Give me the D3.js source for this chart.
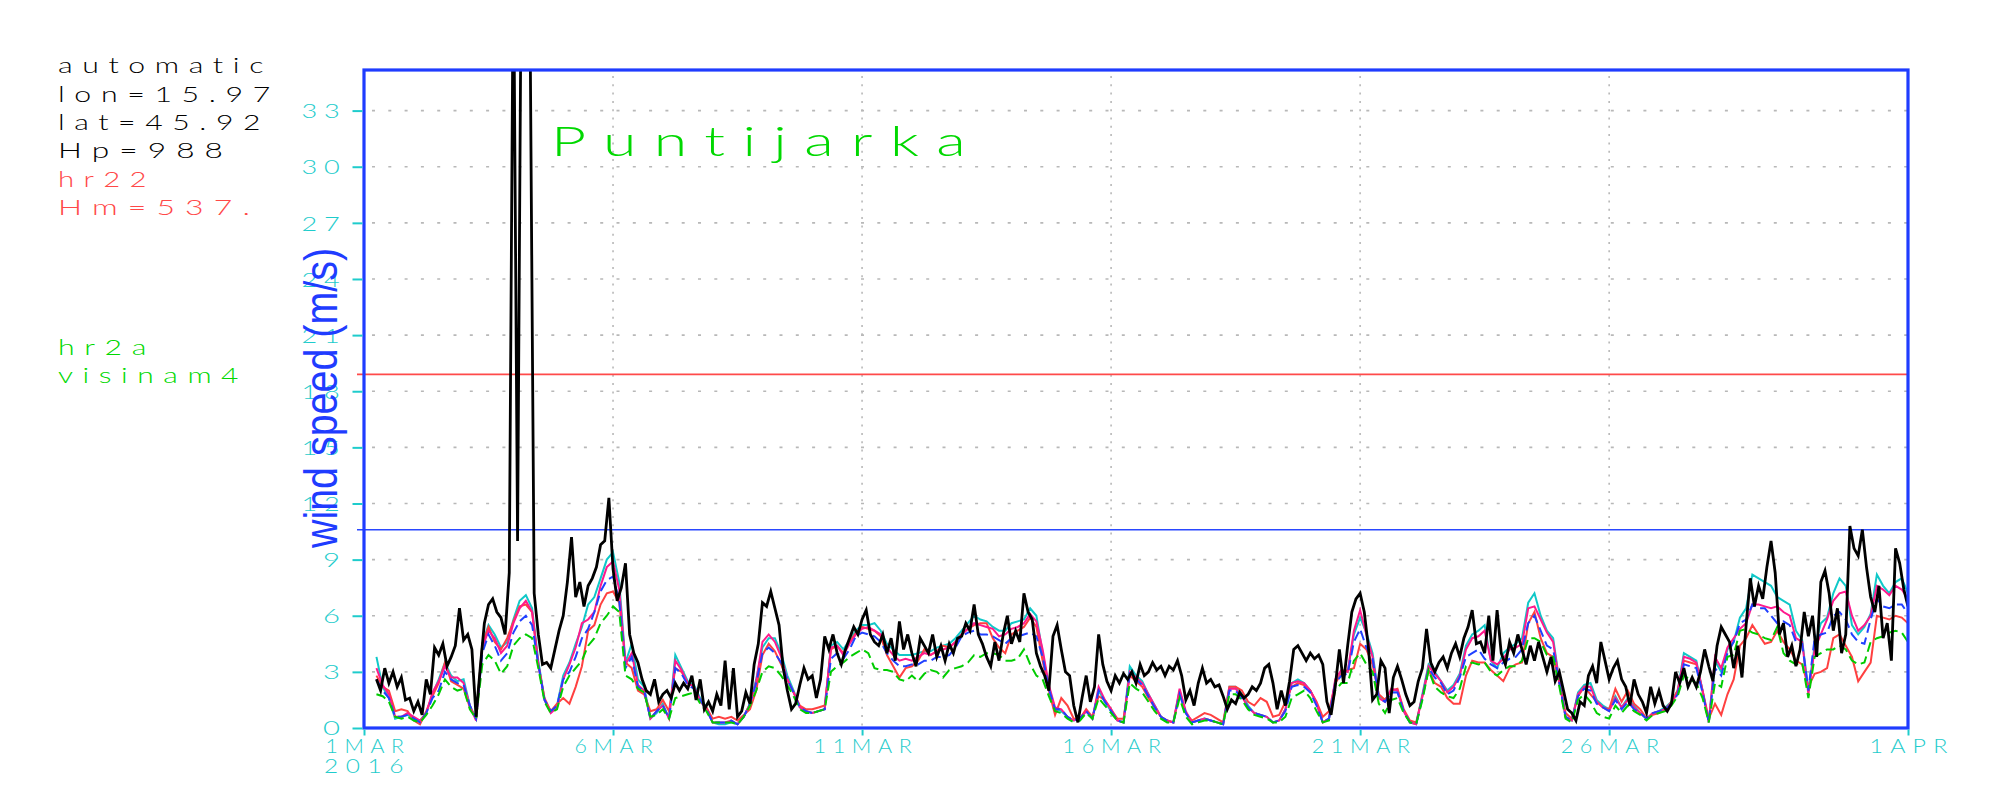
<!DOCTYPE html>
<html><head><meta charset="utf-8">
<script src="https://cdn.jsdelivr.net/npm/d3@7"></script>
<style>body{margin:0;background:#fff}svg{display:block}
text{font-variant-ligatures:none;font-feature-settings:"liga" 0,"clig" 0}</style>
</head><body>
<svg id="chart" width="2000" height="800"></svg>
<script>
// ---------------- data ----------------
const yTicks = [0,3,6,9,12,15,18,21,24,27,30,33];
const xTickDates = ["2016-03-01","2016-03-06","2016-03-11","2016-03-16","2016-03-21","2016-03-26","2016-04-01"];
const xTickLabels = ["1MAR","6MAR","11MAR","16MAR","21MAR","26MAR","1APR"];
const yearLabel = "2016";
const title = "Puntijarka";
const yAxisTitle = "wind speed (m/s)";
const infoLines = ["automatic","lon=15.97","lat=45.92","Hp=988","hr22","Hm=537.","hr2a","visinam4"];
const thresholds = [10.6, 18.9];   // blue, red reference lines
const startTime = "2016-03-01T00:00:00Z";
const obsStepHours = 2;
const modelStepHours = 3;

// observed (black), every 2 h
const observed = [null,null,null,2.6,2.0,3.2,2.4,3.0,2.2,2.7,
1.5,1.6,0.9,1.4,0.7,2.6,1.8,4.3,3.9,4.5,
3.3,3.8,4.4,6.4,4.7,5.0,4.2,0.6,3.2,5.6,
6.6,6.9,6.2,5.9,5.0,8.3,42,10,45,40,
38,7.2,5.0,3.4,3.5,3.2,4.2,5.2,6.0,7.8,
10.2,7.0,7.8,6.5,7.6,8.0,8.6,9.8,10.0,12.3,
8.5,6.8,7.5,8.8,5.0,4.0,3.5,2.6,2.0,1.8,
2.6,1.4,1.8,2.0,1.6,2.4,2.0,2.4,2.1,2.8,
1.5,2.6,1.0,1.4,0.9,1.8,1.2,3.6,1.0,3.2,
0.6,0.9,1.9,1.3,3.4,4.5,6.7,6.5,7.3,6.4,
5.5,3.2,2.0,1.0,1.3,2.3,3.2,2.6,2.8,1.6,
2.6,4.9,4.2,5.0,4.0,3.4,4.2,4.8,5.4,5.0,
5.8,6.3,5.0,4.6,4.4,5.0,4.0,4.8,3.6,5.7,
4.2,5.0,4.0,3.3,4.8,4.4,4.0,5.0,3.8,4.4,
3.6,4.5,4.0,4.8,4.9,5.6,5.2,6.6,5.0,4.5,
3.8,3.3,4.6,3.6,5.0,6.0,4.5,5.2,4.6,7.2,
6.2,5.8,4.0,3.3,2.8,2.0,4.9,5.5,4.2,3.0,
2.8,1.2,0.3,1.6,2.8,1.4,2.2,5.0,3.4,2.5,
2.0,2.8,2.4,2.9,2.6,3.0,2.4,3.4,2.8,3.0,
3.5,3.1,3.3,2.8,3.3,3.1,3.6,2.8,1.5,2.0,
1.2,2.4,3.2,2.4,2.6,2.2,2.3,1.7,1.0,1.5,
1.3,1.9,1.6,1.8,2.2,2.0,2.4,3.2,3.4,2.4,
1.0,2.0,1.2,2.5,4.2,4.4,4.0,3.6,4.0,3.7,
3.9,3.4,1.4,0.7,2.2,4.2,2.4,4.4,6.2,6.9,
7.2,6.2,4.3,1.5,1.8,3.6,3.2,0.8,2.7,3.3,
2.6,1.8,1.2,1.4,2.5,3.2,5.3,3.5,3.0,3.5,
3.8,3.2,4.0,4.5,3.8,4.8,5.4,6.3,4.5,4.6,
4.0,6.0,3.6,6.3,4.0,3.4,4.6,4.0,5.0,4.2,
3.4,4.4,3.6,4.6,3.8,3.0,3.8,2.5,3.0,2.0,
1.0,0.8,0.4,1.4,1.2,2.8,3.3,2.4,4.6,3.6,
2.6,3.2,3.6,2.6,2.2,1.2,2.6,1.8,1.4,0.8,
2.2,1.3,2.0,1.2,0.9,1.3,3.0,2.4,3.2,2.2,
2.7,2.2,3.0,4.2,3.3,2.5,4.4,5.4,5.0,4.6,
3.2,4.4,2.7,5.5,8.0,6.5,7.6,6.9,8.6,10.0,
8.3,5.0,5.6,3.8,4.4,3.3,4.2,6.2,4.9,6.0,
3.8,7.8,8.4,7.2,5.2,6.4,4.0,5.0,10.8,9.6,
9.2,10.6,8.6,7.0,6.2,7.6,4.8,5.6,3.6,9.6,
8.8,7.4,6.5];

// models, every 3 h
const modelCyan = [null,null,3.8,2.2,1.6,0.5,0.6,0.7,0.5,0.4,
0.8,1.8,2.6,3.5,2.8,2.5,2.6,1.2,0.5,4.5,
5.5,5.0,4.3,4.6,5.8,6.8,7.1,6.4,3.6,1.5,
0.9,1.2,2.8,3.5,4.5,5.4,6.6,7.0,8.0,9.0,
9.4,7.8,3.5,4.5,2.6,2.2,0.5,0.8,1.3,0.5,
3.9,3.2,2.5,2.3,1.6,1.1,0.3,0.2,0.2,0.3,
0.2,0.6,1.3,2.6,4.3,4.8,4.8,4.0,2.8,2.0,
1.1,0.9,0.8,0.9,1.0,4.4,4.6,4.2,4.7,5.2,
5.5,5.5,5.6,5.2,4.5,4.2,3.9,3.9,3.9,4.0,
4.1,4.1,4.3,4.4,4.5,4.8,5.2,5.6,6.0,5.8,
5.7,5.4,5.2,5.2,5.6,5.7,5.8,6.4,6.0,4.0,
2.2,1.0,0.9,0.6,0.4,0.5,0.9,0.5,2.0,1.4,
0.9,0.4,0.3,3.3,2.8,2.5,1.8,1.2,0.6,0.4,
0.3,2.0,0.8,0.3,0.4,0.5,0.4,0.3,0.2,2.2,
2.2,1.8,1.2,0.8,0.7,0.6,0.3,0.4,1.0,2.4,
2.6,2.4,2.0,1.3,0.3,0.5,2.5,3.0,3.0,5.0,
5.9,5.1,4.0,1.7,1.5,2.0,2.0,0.9,0.3,0.2,
1.8,3.4,3.0,2.5,2.0,2.3,2.9,4.4,5.0,5.2,
5.5,3.6,3.2,4.0,4.3,4.5,4.8,6.7,7.2,6.0,
5.2,4.8,2.5,0.6,0.4,1.9,2.3,2.4,1.5,1.2,
1.0,1.7,1.1,1.6,1.2,0.8,0.5,0.8,0.9,1.1,
1.4,2.0,4.0,3.8,3.6,2.0,0.3,3.6,3.0,4.2,
4.6,5.9,6.4,8.2,8.0,7.8,7.6,7.0,6.8,6.6,
5.2,4.7,2.0,4.4,5.6,5.9,7.2,8.0,7.6,5.5,
5.0,5.4,6.1,8.2,7.6,7.2,7.8,8.0,7.2];

const modelMagenta = [null,null,3.2,2.3,1.8,0.6,0.6,0.8,0.6,0.4,
0.8,1.9,2.5,3.3,2.7,2.7,2.4,1.2,0.4,4.3,
5.2,4.8,4.0,4.4,5.6,6.4,6.8,6.2,3.4,1.5,
0.8,1.1,2.6,3.4,4.3,5.6,5.8,6.2,7.6,8.6,
8.9,7.4,3.4,4.0,2.3,2.0,0.5,0.9,1.2,0.5,
3.6,3.1,2.4,2.2,1.5,1.0,0.3,0.3,0.3,0.4,
0.2,0.6,1.3,2.5,4.6,5.0,4.6,3.8,2.6,1.9,
1.1,0.9,0.8,0.9,1.0,4.3,4.4,3.9,4.5,5.0,
5.3,5.4,5.2,5.0,4.3,3.9,3.6,3.7,3.6,3.8,
4.0,3.9,4.1,4.2,4.3,4.6,5.0,5.3,5.6,5.5,
5.4,5.3,4.9,5.0,5.3,5.4,5.6,6.1,5.7,4.2,
2.3,1.1,1.0,0.6,0.4,0.5,0.9,0.5,2.2,1.5,
1.0,0.4,0.3,3.0,2.7,2.4,1.8,1.2,0.6,0.4,
0.3,2.1,0.9,0.3,0.4,0.5,0.4,0.3,0.2,2.1,
2.1,1.7,1.1,0.8,0.7,0.6,0.3,0.4,1.0,2.4,
2.5,2.4,2.0,1.3,0.3,0.5,2.6,3.1,3.0,5.2,
6.3,5.0,3.8,1.6,1.4,2.1,2.0,0.9,0.3,0.2,
1.7,3.3,2.9,2.5,1.9,2.2,2.8,4.2,4.8,4.9,
5.2,3.6,3.4,3.7,4.2,4.3,4.5,6.4,6.5,5.8,
5.1,4.6,2.5,0.6,0.4,1.8,2.2,2.2,1.4,1.1,
0.9,1.6,1.1,1.5,1.1,0.8,0.5,0.8,0.9,1.0,
1.3,1.9,3.8,3.7,3.5,2.0,0.3,3.8,3.2,4.3,
4.8,5.3,5.6,6.6,6.6,6.5,6.4,6.5,6.2,6.0,
4.8,4.6,1.8,4.2,5.0,5.8,6.8,7.2,7.3,6.0,
5.2,5.5,6.0,7.6,7.4,7.1,7.6,7.4,6.9];

const modelRed = [null,null,2.8,2.2,2.0,0.9,1.0,0.9,0.4,0.2,
0.9,1.7,2.4,3.5,2.5,2.3,2.1,1.1,0.5,4.5,
5.4,4.6,4.2,4.8,5.7,6.5,6.6,6.2,3.4,1.6,
0.9,1.3,1.6,1.3,2.2,3.3,5.2,5.5,6.6,7.2,
7.3,6.7,3.5,3.2,2.0,1.8,0.9,1.0,1.5,0.9,
3.2,3.0,2.4,2.2,1.4,1.1,0.5,0.6,0.5,0.6,
0.4,0.7,1.0,2.0,3.9,4.5,4.1,3.4,2.6,1.9,
1.2,1.0,1.0,1.1,1.2,4.2,4.4,4.0,4.6,5.1,
5.4,5.3,5.2,4.9,3.9,3.3,2.7,3.2,3.3,3.6,
4.2,3.9,4.1,4.4,4.3,4.6,5.0,5.3,5.5,5.6,
5.6,4.8,4.3,4.0,5.0,5.2,5.4,5.9,5.4,3.6,
2.0,0.7,1.6,1.2,0.5,0.5,1.0,0.6,1.7,1.5,
1.0,0.5,0.5,2.8,2.5,2.2,1.6,1.1,0.6,0.4,
0.3,1.9,0.8,0.4,0.6,0.8,0.7,0.5,0.3,2.2,
2.2,2.0,1.4,1.2,1.6,1.4,0.6,0.7,1.4,2.2,
2.4,2.3,2.0,1.4,0.6,0.9,2.4,2.9,3.1,3.2,
4.5,4.2,3.4,1.8,1.5,2.0,2.1,1.0,0.4,0.3,
1.7,3.1,2.4,2.2,1.6,1.3,1.3,2.8,3.6,3.5,
3.5,3.1,2.8,2.5,3.2,3.4,3.5,5.6,6.2,4.8,
4.0,3.8,2.4,0.8,0.5,1.7,2.2,1.8,1.4,1.1,
1.0,2.1,1.4,2.0,1.3,1.0,0.5,0.7,0.8,1.0,
1.4,2.0,3.6,3.5,3.4,2.0,0.5,1.3,0.7,1.8,
2.6,4.4,4.8,5.5,5.0,4.5,4.6,5.2,4.6,4.2,
3.6,3.4,2.2,2.9,3.0,3.2,4.8,5.0,4.4,3.8,
2.5,3.0,3.5,6.0,5.9,5.8,6.0,5.9,5.6];

const modelBlue = [null,null,2.6,2.0,1.6,0.6,0.6,0.7,0.5,0.3,
0.8,1.6,2.0,3.0,2.6,2.4,2.3,1.2,0.5,4.0,
5.0,4.4,3.6,4.0,5.1,5.7,6.0,5.5,3.4,1.5,
0.9,1.2,2.6,3.0,3.8,4.8,5.3,6.2,7.3,7.9,
8.1,6.8,3.2,3.8,2.2,2.0,0.5,0.9,1.2,0.5,
3.2,2.9,2.3,2.1,1.5,1.0,0.3,0.3,0.3,0.4,
0.2,0.6,1.3,2.4,4.0,4.3,4.0,3.5,2.6,1.9,
1.1,0.9,0.8,0.9,1.0,3.7,4.0,3.7,4.2,4.9,
5.1,5.0,4.9,4.6,4.0,3.6,3.3,3.3,3.4,3.4,
3.6,3.6,3.8,3.8,3.9,4.3,4.9,5.1,5.2,5.0,
5.0,4.9,4.7,4.5,4.8,4.9,5.0,5.1,4.9,3.8,
2.1,1.0,1.0,0.6,0.4,0.5,0.9,0.5,2.0,1.4,
0.9,0.4,0.3,2.9,2.6,2.3,1.7,1.1,0.6,0.4,
0.3,1.8,0.8,0.3,0.4,0.5,0.4,0.3,0.2,2.0,
2.0,1.6,1.1,0.8,0.7,0.6,0.3,0.4,0.9,2.2,
2.3,2.2,1.9,1.2,0.3,0.5,2.4,2.8,2.9,4.6,
5.3,4.3,3.7,1.6,1.4,1.9,1.9,0.9,0.3,0.2,
1.6,3.2,2.7,2.4,1.8,2.0,2.7,3.8,4.0,4.2,
3.7,3.4,3.2,3.5,3.7,3.8,4.2,5.6,6.0,5.2,
4.4,4.2,2.4,0.6,0.4,1.7,2.1,2.0,1.3,1.1,
0.9,1.5,1.0,1.4,1.0,0.8,0.5,0.8,0.9,1.0,
1.3,1.8,3.4,3.3,3.2,1.9,0.3,3.2,2.8,4.0,
4.6,5.6,5.8,6.6,6.4,6.4,6.0,5.6,5.7,5.5,
4.6,4.5,2.0,4.8,5.0,5.1,6.0,6.2,5.8,5.0,
4.6,4.5,5.8,6.9,6.5,6.4,6.6,6.6,6.1];

const modelGreen = [null,null,1.8,1.7,1.4,0.6,0.5,0.6,0.4,0.3,
0.7,1.2,1.8,2.6,2.2,2.0,2.1,1.0,0.5,3.4,
3.9,3.6,2.9,3.3,4.4,4.8,5.0,4.8,3.2,1.4,
0.8,1.0,2.2,2.8,3.2,3.6,4.4,4.8,5.6,6.0,
6.5,6.2,2.8,2.6,2.1,1.9,0.6,0.7,1.0,0.5,
1.6,1.7,1.8,1.9,1.3,0.9,0.3,0.3,0.3,0.3,
0.2,0.6,1.2,2.0,3.0,3.3,3.2,2.8,2.3,1.7,
1.0,0.8,0.8,0.9,1.0,3.0,3.3,3.5,3.8,4.0,
4.2,4.0,3.2,3.1,3.1,3.0,2.6,2.5,2.8,2.5,
2.9,3.1,3.0,2.7,3.1,3.2,3.3,3.5,3.9,3.8,
4.0,4.0,3.9,3.6,3.6,3.7,4.2,3.4,2.8,2.6,
1.7,0.9,0.8,0.5,0.3,0.4,0.8,0.5,1.6,1.2,
0.8,0.4,0.3,2.4,2.1,1.9,1.4,0.9,0.5,0.3,
0.3,1.6,0.6,0.2,0.3,0.4,0.4,0.3,0.2,1.8,
1.8,1.5,1.0,0.7,0.6,0.5,0.3,0.3,0.6,1.6,
1.8,2.0,1.6,0.9,0.3,0.4,2.0,2.4,2.4,3.6,
4.0,3.4,3.0,1.3,0.8,1.5,1.6,0.8,0.3,0.2,
1.5,3.1,2.2,1.9,1.7,1.6,2.1,3.3,3.5,3.4,
3.5,3.0,2.8,3.1,3.3,3.3,3.6,4.8,4.8,4.6,
3.9,3.8,2.2,0.5,0.3,1.5,1.8,1.4,0.8,0.6,
0.5,1.2,0.8,1.2,0.9,0.7,0.4,0.7,0.8,0.9,
1.2,1.7,2.8,2.6,2.4,1.6,0.3,2.4,2.2,3.8,
3.9,5.2,5.3,5.1,5.0,4.8,4.7,5.4,4.0,3.6,
3.4,3.5,1.6,3.8,4.0,4.2,4.2,4.4,4.2,3.6,
3.4,3.5,4.6,4.8,4.9,5.1,5.2,5.1,4.6];

// ---------------- chart ----------------
const svg = d3.select("#chart");
const L = 364, R = 1908, T = 70, B = 728;
const t0 = new Date(startTime);
const x = d3.scaleUtc().domain([t0, new Date("2016-04-01T00:00:00Z")]).range([L, R]);
const y = d3.scaleLinear().domain([0, 35.17]).range([B, T]);

const BLUE = "#1f3cff", CYAN = "#1ecccc", REDT = "#ff4848", GREENT = "#00d800";
const FONT = "Lato, 'DejaVu Sans', sans-serif";

// helper: wide, thin "stroke-font" look
function wideText(sel, size, ls, len, anchor){
  sel.attr("font-family",FONT).attr("font-weight",300).attr("font-size",size)
     .attr("letter-spacing",ls).attr("text-anchor",anchor||"start")
     .attr("textLength",len).attr("lengthAdjust","spacingAndGlyphs");
  return sel;
}

svg.append("defs").append("clipPath").attr("id","clip")
  .append("rect").attr("x",L).attr("y",T).attr("width",R-L).attr("height",B-T);

// grid
const gridG = svg.append("g");
gridG.selectAll("line.h").data(yTicks.filter(v=>v>0)).join("line")
  .attr("x1",L+8).attr("x2",R).attr("y1",d=>y(d)).attr("y2",d=>y(d))
  .attr("stroke","#b8b8b8").attr("stroke-width",1.6).attr("stroke-dasharray","3,13.3");
gridG.selectAll("line.v").data(xTickDates.slice(1,-1)).join("line")
  .attr("x1",d=>x(new Date(d))).attr("x2",d=>x(new Date(d))).attr("y1",T+6).attr("y2",B)
  .attr("stroke","#b8b8b8").attr("stroke-width",1.6).attr("stroke-dasharray","2,6.3");

// reference lines
const thrColors = ["#2a48ff","#ff4a4a"];
svg.selectAll("line.thr").data(thresholds).join("line")
  .attr("x1",357).attr("x2",R).attr("y1",d=>y(d)).attr("y2",d=>y(d))
  .attr("stroke",(d,i)=>thrColors[i]).attr("stroke-width",1.6);

// series
const series = [
  {v:modelCyan, step:modelStepHours, color:"#10c8c8", w:2, dash:null},
  {v:modelRed, step:modelStepHours, color:"#ff4040", w:2, dash:null},
  {v:modelMagenta, step:modelStepHours, color:"#ff1a8c", w:2, dash:null},
  {v:modelBlue, step:modelStepHours, color:"#2040ff", w:2, dash:"10,5"},
  {v:modelGreen, step:modelStepHours, color:"#00cc00", w:2, dash:"10,5"},
  {v:observed, step:obsStepHours, color:"#000000", w:2.8, dash:null}
];
const plotG = svg.append("g").attr("clip-path","url(#clip)");
series.forEach(s=>{
  const pts = s.v.map((val,i)=>({t:new Date(t0.getTime()+i*s.step*3600e3), v:val}));
  const line = d3.line().defined(d=>d.v!==null).x(d=>x(d.t)).y(d=>y(d.v));
  plotG.append("path").datum(pts).attr("d",line).attr("fill","none")
    .attr("stroke",s.color).attr("stroke-width",s.w)
    .attr("stroke-dasharray",s.dash).attr("stroke-linejoin","miter");
});

// frame
svg.append("rect").attr("x",L).attr("y",T).attr("width",R-L).attr("height",B-T)
  .attr("fill","none").attr("stroke",BLUE).attr("stroke-width",3.2);

// y axis
const yAx = svg.append("g").attr("transform",`translate(${L-1.5},0)`)
  .call(d3.axisLeft(y).tickValues(yTicks).tickSize(10).tickSizeOuter(0));
yAx.select(".domain").remove();
yAx.selectAll("line").attr("stroke",CYAN).attr("stroke-width",2);
yAx.selectAll("text").attr("dy","0.36em").attr("fill",CYAN)
  .each(function(d){
    const s=String(d), t=d3.select(this);
    if(s.length>1){ wideText(t,20,5,45,"end").attr("x",-16); }
    else { wideText(t,19,0,17,"end").attr("x",-22.5); }
  });

// x axis
const xAx = svg.append("g").attr("transform",`translate(0,${B+1.5})`)
  .call(d3.axisBottom(x).tickValues(xTickDates.map(d=>new Date(d))).tickSize(6).tickSizeOuter(0)
    .tickFormat((d,i)=>xTickLabels[i]));
xAx.select(".domain").remove();
xAx.selectAll("line").attr("stroke",CYAN).attr("stroke-width",2);
xAx.selectAll("text").attr("y",23.5).attr("dy",0).attr("dx",3.5).attr("fill",CYAN)
  .each(function(d,i){ wideText(d3.select(this),19.5,6,xTickLabels[i].length*20+5,"middle"); });
wideText(svg.append("text").attr("x",x(t0)).attr("dx",3.5).attr("y",773).attr("fill",CYAN),19.5,6,87,"middle")
  .text(yearLabel);

// y axis title
svg.append("text").attr("transform","translate(337,398) rotate(-90)")
  .attr("text-anchor","middle").attr("fill",BLUE)
  .attr("font-family","'Liberation Sans', Arial, sans-serif").attr("font-size",46)
  .attr("textLength",300).attr("lengthAdjust","spacingAndGlyphs").text(yAxisTitle);

// title
wideText(svg.append("text").attr("x",551).attr("y",156).attr("fill",GREENT),42,12,432,"start").text(title);

// info block
const infoColors = ["#000","#000","#000","#000",REDT,REDT,GREENT,GREENT];
const infoY = [73,102,130,158,187,215,355,383];
const infoW = [207,214,204,167,90,194,90,182];
svg.selectAll("text.info").data(infoLines).join("text")
  .attr("x",58).attr("y",(d,i)=>infoY[i]).attr("fill",(d,i)=>infoColors[i])
  .each(function(d,i){ wideText(d3.select(this),22,7,infoW[i]+8,"start"); })
  .text(d=>d);
</script>
</body></html>
